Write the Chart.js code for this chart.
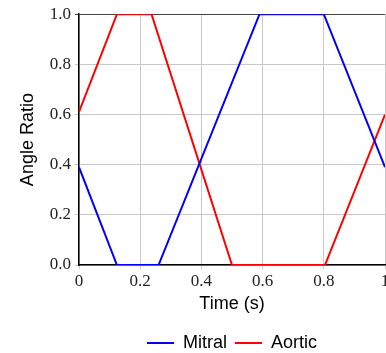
<!DOCTYPE html>
<html>
<head>
<meta charset="utf-8">
<script src="https://cdn.jsdelivr.net/npm/chart.js@4"></script>
<style>
  html, body { margin: 0; padding: 0; background: #fff; overflow: hidden; }
  #wrap { width: 400px; height: 362px; }
</style>
</head>
<body>
<div id="wrap"><canvas id="chart" width="400" height="362"></canvas></div>
<script>
// values
const mitralTimes = [0, 0.124, 0.26, 0.59, 0.80, 1];
const mitralRatio = [0.39, 0, 0, 1, 1, 0.39];
const aorticTimes = [0, 0.124, 0.237, 0.50, 0.804, 1];
const aorticRatio = [0.61, 1, 1, 0, 0, 0.60];
const xTickValues = [0, 0.2, 0.4, 0.6, 0.8, 1];
const xTickLabels = ['0', '0.2', '0.4', '0.6', '0.8', '1'];

const toPoints = (xs, ys) => xs.map((x, i) => ({ x: x, y: ys[i] }));
const serif = { family: '"Liberation Serif", serif', size: 17 };
const sans = { family: '"Liberation Sans", Arial, sans-serif', size: 18 };

new Chart(document.getElementById('chart'), {
    type: 'line',
    data: {
        datasets: [
            {
                label: 'Mitral',
                data: toPoints(mitralTimes, mitralRatio),
                borderColor: '#0000ff',
                backgroundColor: '#0000ff',
                borderWidth: 2,
                pointRadius: 0,
                tension: 0,
                fill: false
            },
            {
                label: 'Aortic',
                data: toPoints(aorticTimes, aorticRatio),
                borderColor: '#ff0000',
                backgroundColor: '#ff0000',
                borderWidth: 2,
                pointRadius: 0,
                tension: 0,
                fill: false
            }
        ]
    },
    options: {
        responsive: false,
        animation: false,
        layout: { padding: { top: 13, right: 15, left: 0, bottom: 0 } },
        plugins: {
            tooltip: { enabled: false },
            legend: {
                position: 'bottom',
                fullSize: false,
                labels: {
                    usePointStyle: true,
                    pointStyle: 'line',
                    pointStyleWidth: 27,
                    boxHeight: 2,
                    color: '#000',
                    font: sans,
                    padding: 8
                }
            }
        },
        scales: {
            x: {
                type: 'linear',
                min: 0,
                max: 1,
                afterBuildTicks: (s) => { s.ticks = xTickValues.map((v) => ({ value: v })); },
                afterFit: (s) => { s.height = 61; },
                ticks: {
                    color: '#222',
                    font: serif,
                    padding: 2,
                    maxRotation: 0,
                    callback: (v) => xTickLabels[xTickValues.indexOf(v)]
                },
                grid: { color: '#c8c8c8', tickLength: 4 },
                border: { color: '#000', width: 1.5 },
                title: { display: true, text: 'Time (s)', color: '#000', font: sans, padding: { top: 5, bottom: 11 } }
            },
            y: {
                min: 0,
                max: 1,
                afterFit: (s) => { s.width = 79; },
                ticks: {
                    stepSize: 0.2,
                    color: '#222',
                    font: serif,
                    padding: 4,
                    callback: (v) => v.toFixed(1)
                },
                grid: {
                    color: (c) => (c.tick && c.tick.value === 1 ? '#444' : '#c8c8c8'),
                    tickLength: 4
                },
                border: { color: '#000', width: 1.5 },
                title: { display: true, text: 'Angle Ratio', color: '#000', font: sans, padding: { top: 17, bottom: 0 } }
            }
        }
    }
});
</script>
</body>
</html>
